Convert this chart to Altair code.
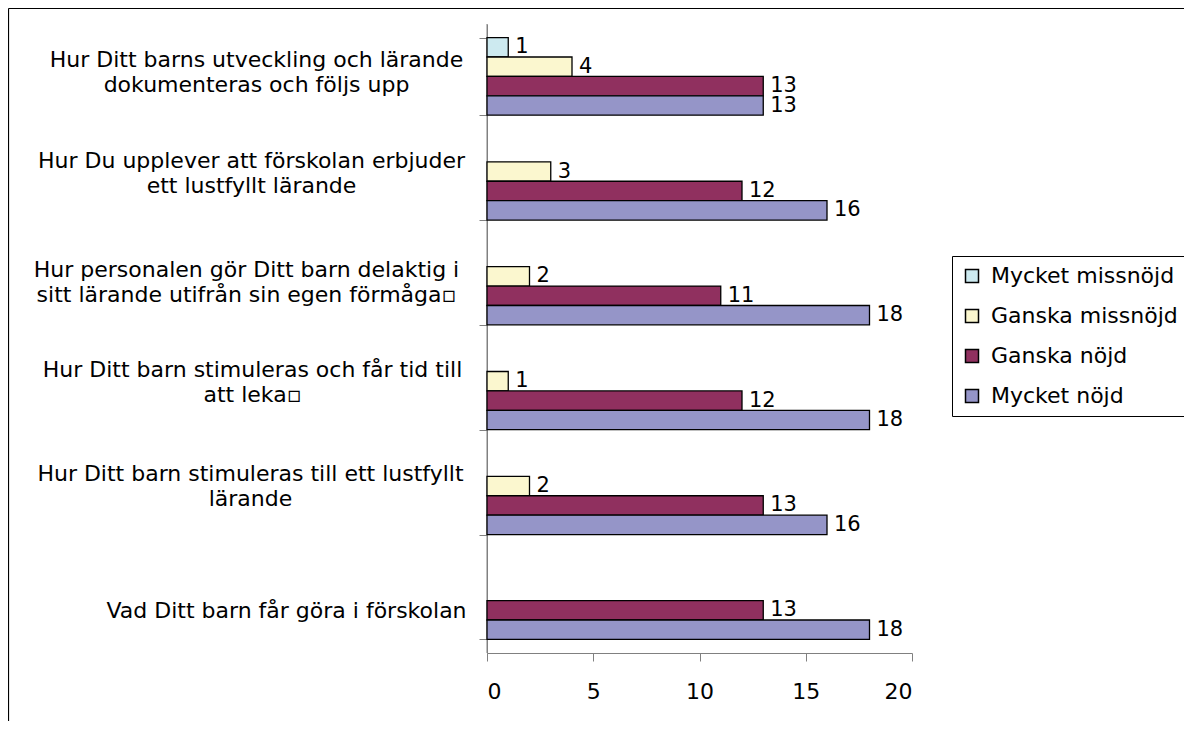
import json
import altair as alt
import pandas as pd

categories = [
    "Hur Ditt barns utveckling och  lärande\ndokumenteras och  följs upp",
    "Hur Du upplever att förskolan  erbjuder\nett lustfyllt lärande",
    "Hur personalen gör Ditt barn  delaktig i\nsitt lärande utifrån  sin egen förmåga▫",
    "Hur Ditt barn stimuleras och får  tid till\natt leka▫",
    "Hur Ditt barn stimuleras till ett  lustfyllt\nlärande",
    "Vad Ditt barn får göra i förskolan",
]
series = ["Mycket missnöjd", "Ganska missnöjd", "Ganska nöjd", "Mycket nöjd"]
mycket_missnojd = [1, 0, 0, 0, 0, 0]
ganska_missnojd = [4, 3, 2, 1, 2, 0]
ganska_nojd = [13, 12, 11, 12, 13, 13]
mycket_nojd = [13, 16, 18, 18, 16, 18]
colors = ["#cdeaf0", "#fbf7cf", "#90305f", "#9595c8"]
x_ticks = [0, 5, 10, 15, 20]

# label placement (style)
label_pad = [223, 228, 233, 227, 229, 193]
label_shift = [-17, -21, -16.5, -21.5, -22.5, 10]

values_by_series = [mycket_missnojd, ganska_missnojd, ganska_nojd, mycket_nojd]
rows = []
for ci, cat in enumerate(categories):
    for si, s in enumerate(series):
        rows.append({"category": cat, "series": s, "value": values_by_series[si][ci]})
df = pd.DataFrame(rows)


def cond(vals, default):
    return {
        "condition": [
            {"test": "datum.value == " + json.dumps(c, ensure_ascii=False), "value": v}
            for c, v in zip(categories, vals)
        ],
        "value": default,
    }


FONT = "DejaVu Sans"
GRAY = "#808080"

base = alt.Chart(df).transform_filter("datum.value > 0").encode(
    x=alt.X(
        "value:Q",
        scale=alt.Scale(domain=[0, 20], nice=False),
        axis=alt.Axis(
            values=x_ticks, title=None, grid=False, tickSize=8, labelPadding=20,
            labelFont=FONT, labelFontSize=22, labelColor="black",
            domainColor=GRAY, tickColor=GRAY, domain=True,
        ),
    ),
    y=alt.Y(
        "category:N",
        sort=categories,
        scale=alt.Scale(domain=categories, paddingInner=0.26, paddingOuter=0.13),
        axis=alt.Axis(
            title=None,
            labelExpr="split(datum.label, '\\n')",
            labelAlign="center",
            labelBaseline="middle",
            labelFont=FONT,
            labelFontSize=22,
            labelLineHeight=25,
            labelColor="black",
            labelLimit=600,
            labelPadding=cond(label_pad, 200),
            labelOffset=cond(label_shift, 0),
            tickBand="extent",
            tickSize=8,
            tickColor=GRAY,
            domain=True,
            domainColor=GRAY,
            domainWidth=1,
            grid=False,
        ),
    ),
    yOffset=alt.YOffset(
        "series:N", sort=series,
        scale=alt.Scale(domain=series, paddingInner=0, paddingOuter=0),
    ),
)

bars = base.mark_bar(stroke="black", strokeWidth=1.3, opacity=1).encode(
    color=alt.Color(
        "series:N",
        scale=alt.Scale(domain=series, range=colors),
        legend=alt.Legend(
            title=None, orient="none", legendX=465, legendY=232,
            strokeColor="black", fillColor="white", padding=9,
            symbolType="square", symbolSize=169, symbolStrokeColor="black",
            symbolStrokeWidth=1.5, symbolOpacity=1,
            labelFont=FONT, labelFontSize=22, labelColor="black",
            rowPadding=18, labelOffset=8, labelLimit=400,
        ),
    )
)

text = base.mark_text(
    align="left", baseline="middle", dx=7, font=FONT, fontSize=21, color="black"
).encode(text="value:Q")

one = pd.DataFrame({"a": [0]})
y_domain_line = alt.Chart(one).mark_rule(color=GRAY, strokeWidth=1).encode(
    x=alt.datum(0), y=alt.value(0), y2=alt.value(629)
)
frame_top = alt.Chart(one).mark_rule(color="black", strokeWidth=1.2).encode(
    x=alt.value(-478.5), x2=alt.value(720), y=alt.value(-15.5)
)
frame_left = alt.Chart(one).mark_rule(color="black", strokeWidth=1.2).encode(
    x=alt.value(-478.5), y=alt.value(-15.5), y2=alt.value(720)
)

chart = alt.layer(y_domain_line, bars, text, frame_top, frame_left).properties(
    width=425,
    height=629,
    padding={"left": 479, "top": 16, "right": 272, "bottom": 68},
    autosize=alt.AutoSizeParams(type="none"),
    background="white",
).configure_view(stroke=None)

chart.save("out.html", embed_options={"renderer": "svg", "actions": False})
